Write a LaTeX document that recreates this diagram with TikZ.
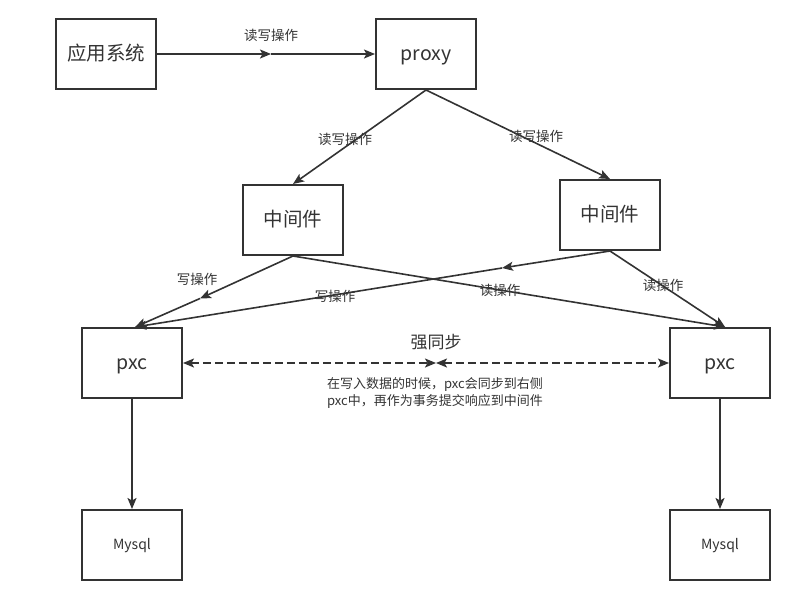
\documentclass[tikz,border=0pt]{standalone}
\usepackage{fontspec}
\setmainfont{Noto Sans CJK SC}
\usetikzlibrary{arrows.meta}
\definecolor{ink}{HTML}{333333}
\tikzset{
  box/.style={draw=ink, line width=2pt, minimum width=100pt, minimum height=70pt,
    inner sep=0pt, text=ink, font=\fontsize{19.5}{21}\selectfont,
    text height=15pt, text depth=2pt},
  dbbox/.style={box, font=\fontsize{14}{16}\selectfont, text height=11pt, text depth=1.5pt},
  arr/.style={draw=ink, line width=1.6pt, -{Stealth[length=11pt,width=9pt,inset=2.5pt]}},
  sync/.style={draw=ink, line width=1.6pt, dash pattern=on 8pt off 4pt,
    {Stealth[length=11pt,width=9pt,inset=2.5pt]}-{Stealth[length=11pt,width=9pt,inset=2.5pt]}},
  lbl/.style={text=ink, font=\fontsize{13.5}{15}\selectfont},
}
\begin{document}
\begin{tikzpicture}[x=1pt,y=-1pt]
    \useasboundingbox (0,0) rectangle (801,600);

    % Boxes
    \node[box] (app) at (106,54) {应用系统};
    \node[box] (proxy) at (426,54) {proxy};
    \node[box] (midl) at (293,220) {中间件};
    \node[box] (midr) at (610,215) {中间件};
    \node[box] (pxcl) at (132,363) {pxc};
    \node[box] (pxcr) at (720,363) {pxc};
    \node[dbbox] (dbl) at (132,545) {Mysql};
    \node[dbbox] (dbr) at (720,545) {Mysql};

    % Break points on some links
    \coordinate (m1) at (271,54);
    \coordinate (m2) at (200,298.5);
    \coordinate (m3) at (502,268);
    \coordinate (sm) at (436,363);

    % Links
    \draw[arr] (app.east) -- (m1);
    \draw[arr] (m1) -- (proxy.west);
    \draw[arr] (proxy.south) -- (midl.north);
    \draw[arr] (proxy.south) -- (midr.north);
    \draw[arr] (midl.south) -- (m2);
    \draw[arr] (m2) -- (pxcl.85);
    \draw[arr] (midl.south) -- (pxcr.82);
    \draw[arr] (midr.south) -- (m3);
    \draw[arr] (m3) -- (pxcl.85);
    \draw[arr] (midr.south) -- (pxcr.82);
    \draw[arr] (pxcl.south) -- (dbl.north);
    \draw[arr] (pxcr.south) -- (dbr.north);

    % Strong sync
    \draw[sync] (pxcl.east) -- (sm);
    \draw[sync] (sm) -- (pxcr.west);

    % Labels
    \node[lbl] (t1) at (271,35) {读写操作};
    \node[lbl] (t2) at (345,139) {读写操作};
    \node[lbl] (t3) at (536,136) {读写操作};
    \node[lbl] (t4) at (197,279) {写操作};
    \node[lbl] (t5) at (335,296) {写操作};
    \node[lbl] (t6) at (500,290) {读操作};
    \node[lbl] (t7) at (663,285) {读操作};
    \node[text=ink, font=\fontsize{17}{19}\selectfont] (t8) at (436,342) {强同步};
    \node[lbl, align=center, font=\fontsize{13}{17}\selectfont] (t9) at (435,393)
      {在写入数据的时候，pxc会同步到右侧\\pxc中，再作为事务提交响应到中间件};
  \end{tikzpicture}
\end{document}
